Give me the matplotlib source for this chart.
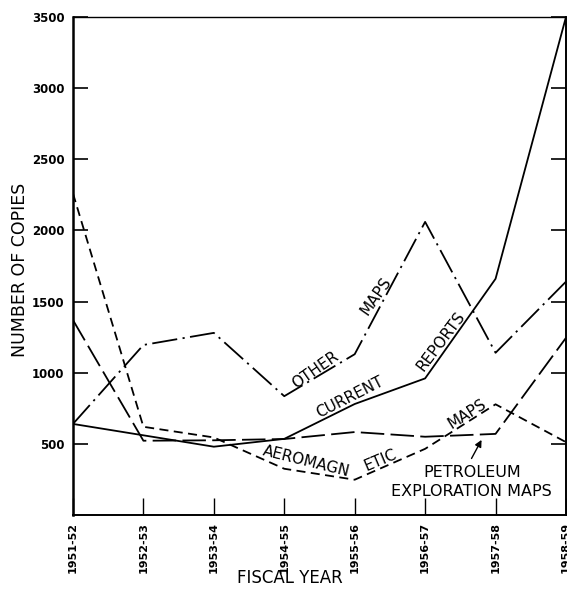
import matplotlib.pyplot as plt

# fiscal years and copies of each publication type
years = ['1951-52', '1952-53', '1953-54', '1954-55',
         '1955-56', '1956-57', '1957-58', '1958-59']
current_reports = [640, 560, 480, 535, 780, 960, 1660, 3500]
other_maps = [640, 1195, 1280, 835, 1130, 2060, 1140, 1640]
aeromagnetic_maps = [2260, 620, 545, 325, 248, 465, 778, 512]
petroleum_maps = [1370, 522, 525, 534, 583, 550, 570, 1245]
y_ticks = [500, 1000, 1500, 2000, 2500, 3000, 3500]

x = range(len(years))

fig = plt.figure(figsize=(5.67, 5.94), dpi=100)
ax = fig.add_axes([0.1287, 0.133, 0.8695, 0.8384])

ax.plot(x, current_reports, color='black', linewidth=1.3, linestyle='-')
ax.plot(x, other_maps, color='black', linewidth=1.3,
        linestyle=(0, (14, 3, 1.2, 3)))
ax.plot(x, aeromagnetic_maps, color='black', linewidth=1.3,
        linestyle=(0, (5, 3)))
ax.plot(x, petroleum_maps, color='black', linewidth=1.3,
        linestyle=(0, (13, 3.5)))

ax.set_xlim(0, 7)
ax.set_ylim(0, 3500)

ax.set_xticks(list(x))
ax.set_xticklabels(years, rotation=90, fontsize=8, fontweight='bold',
                   va='top')
ax.set_yticks(y_ticks)
ax.set_yticklabels([str(v) for v in y_ticks], fontsize=8.5, fontweight='bold')
ax.tick_params(axis='y', direction='in', length=11, width=1.2,
               left=True, right=True, pad=6)
ax.tick_params(axis='x', direction='in', length=12, width=1.0, pad=5)

ax.spines['left'].set_linewidth(1.8)
ax.spines['bottom'].set_linewidth(1.4)
ax.spines['right'].set_linewidth(1.4)
ax.spines['top'].set_linewidth(1.0)

fig.text(20/567, 1-270/594, 'NUMBER OF COPIES', rotation=90,
         ha='center', va='center', fontsize=12.5)
fig.text(290/567, 1-578/594, 'FISCAL YEAR', ha='center', va='center',
         fontsize=12)

# curve labels written along the lines
lab = dict(ha='center', va='center', rotation_mode='anchor', fontsize=11)
ax.text(3.44, 1020, 'OTHER', rotation=35, **lab)
ax.text(4.3, 1540, 'MAPS', rotation=55, **lab)
ax.text(3.93, 825, 'CURRENT', rotation=27, **lab)
ax.text(5.22, 1220, 'REPORTS', rotation=53, **lab)
ax.text(3.31, 378, 'AEROMAGN', rotation=-14, **lab)
ax.text(4.37, 385, 'ETIC', rotation=23, **lab)
ax.text(5.6, 712, 'MAPS', rotation=32, **lab)
ax.text(5.67, 298, 'PETROLEUM', ha='center', va='center', fontsize=11.5)
ax.text(5.65, 165, 'EXPLORATION MAPS', ha='center', va='center',
        fontsize=11.5)
ax.annotate('', xy=(5.82, 545), xytext=(5.64, 380),
            arrowprops=dict(arrowstyle='-|>', color='black', lw=1.0,
                            mutation_scale=10))

plt.savefig('out.png', dpi=100)
